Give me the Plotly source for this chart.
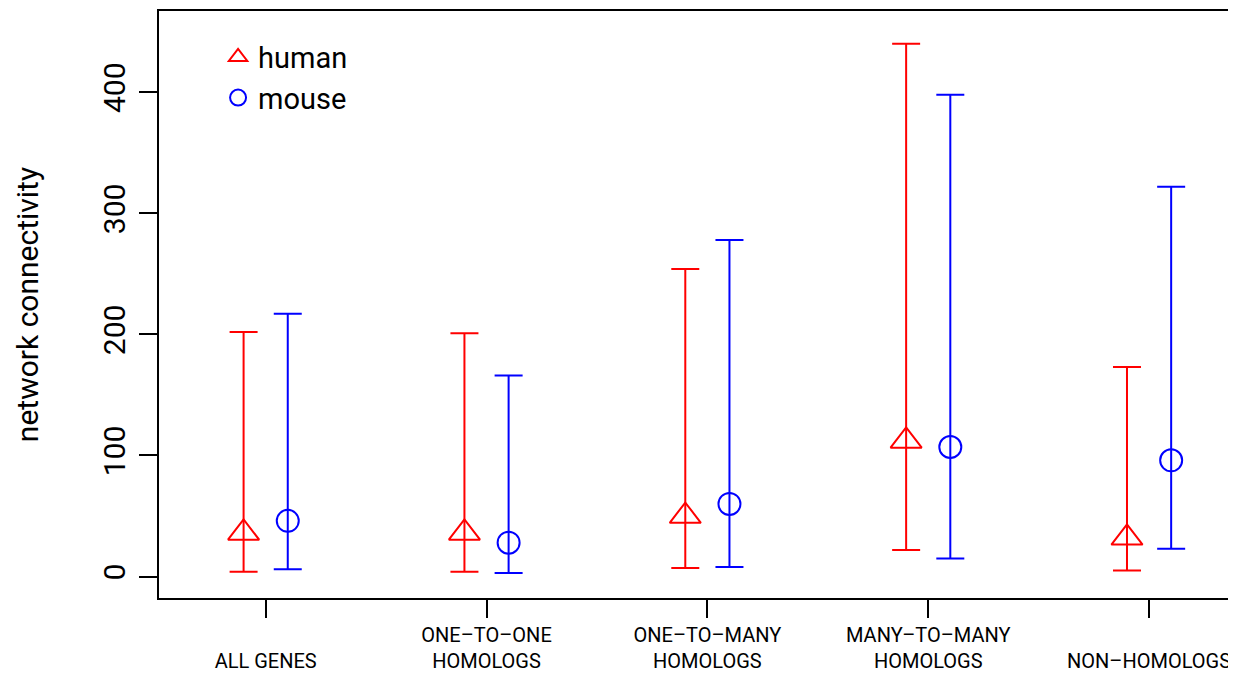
import plotly.graph_objects as go

# ---- data ----
categories = ["ALL GENES", "ONE–TO–ONE HOMOLOGS", "ONE–TO–MANY HOMOLOGS",
              "MANY–TO–MANY HOMOLOGS", "NON–HOMOLOGS"]
tick_labels = ["\u00a0<br>ALL GENES", "ONE–TO–ONE<br>HOMOLOGS", "ONE–TO–MANY<br>HOMOLOGS",
               "MANY–TO–MANY<br>HOMOLOGS", "\u00a0<br>NON–HOMOLOGS"]
human_mid = [36, 36, 50, 112, 32]
human_hi = [202, 201, 254, 440, 173]
human_lo = [4, 4, 7, 22, 5]
mouse_mid = [46, 28, 60, 107, 96]
mouse_hi = [217, 166, 278, 398, 322]
mouse_lo = [6, 3, 8, 15, 23]
y_ticks = [0, 100, 200, 300, 400]

positions = list(range(1, len(categories) + 1))
offset = 0.1

fig = go.Figure()


def add_series(name, mid, hi, lo, color, symbol, size, shift):
    fig.add_trace(go.Scatter(
        x=[p + shift for p in positions],
        y=mid,
        mode="markers",
        name=name,
        marker=dict(symbol=symbol, size=size, color=color, line=dict(color=color, width=2)),
        error_y=dict(type="data", symmetric=False,
                     array=[h - m for h, m in zip(hi, mid)],
                     arrayminus=[m - l for m, l in zip(mid, lo)],
                     color=color, thickness=2, width=14),
    ))


add_series("human", human_mid, human_hi, human_lo, "#FF0000", "triangle-up-open", 27, -offset)
add_series("mouse", mouse_mid, mouse_hi, mouse_lo, "#0000FF", "circle-open", 22, offset)

# page body has an 8px margin, so the figure is sized to fill the rest of the window
fig.update_layout(
    width=1228, height=666,
    margin=dict(l=151, r=2, t=1, b=75),
    plot_bgcolor="white", paper_bgcolor="white",
    font=dict(family="Roboto, Open Sans, sans-serif", color="black"),
    showlegend=True,
    legend=dict(x=0.055, y=0.965, xanchor="left", yanchor="top",
                font=dict(size=29), bgcolor="rgba(0,0,0,0)", borderwidth=0),
)
fig.update_xaxes(
    range=[0.517, 5.38], tickvals=positions, ticktext=tick_labels,
    ticks="outside", ticklen=18, tickwidth=2, tickcolor="black",
    showline=True, mirror=True, linewidth=2, linecolor="black",
    showgrid=False, zeroline=False, tickangle=0,
    tickfont=dict(size=20),
)
fig.update_yaxes(
    range=[-17.7, 467.1], tickvals=y_ticks,
    ticks="outside", ticklen=18, tickwidth=2, tickcolor="black",
    showline=True, mirror=True, linewidth=2, linecolor="black",
    showgrid=False, zeroline=False, tickangle=-90,
    tickfont=dict(size=30), ticklabelstandoff=2,
    title=dict(text="network connectivity", font=dict(size=30), standoff=50),
)

fig.write_html("out.html")
